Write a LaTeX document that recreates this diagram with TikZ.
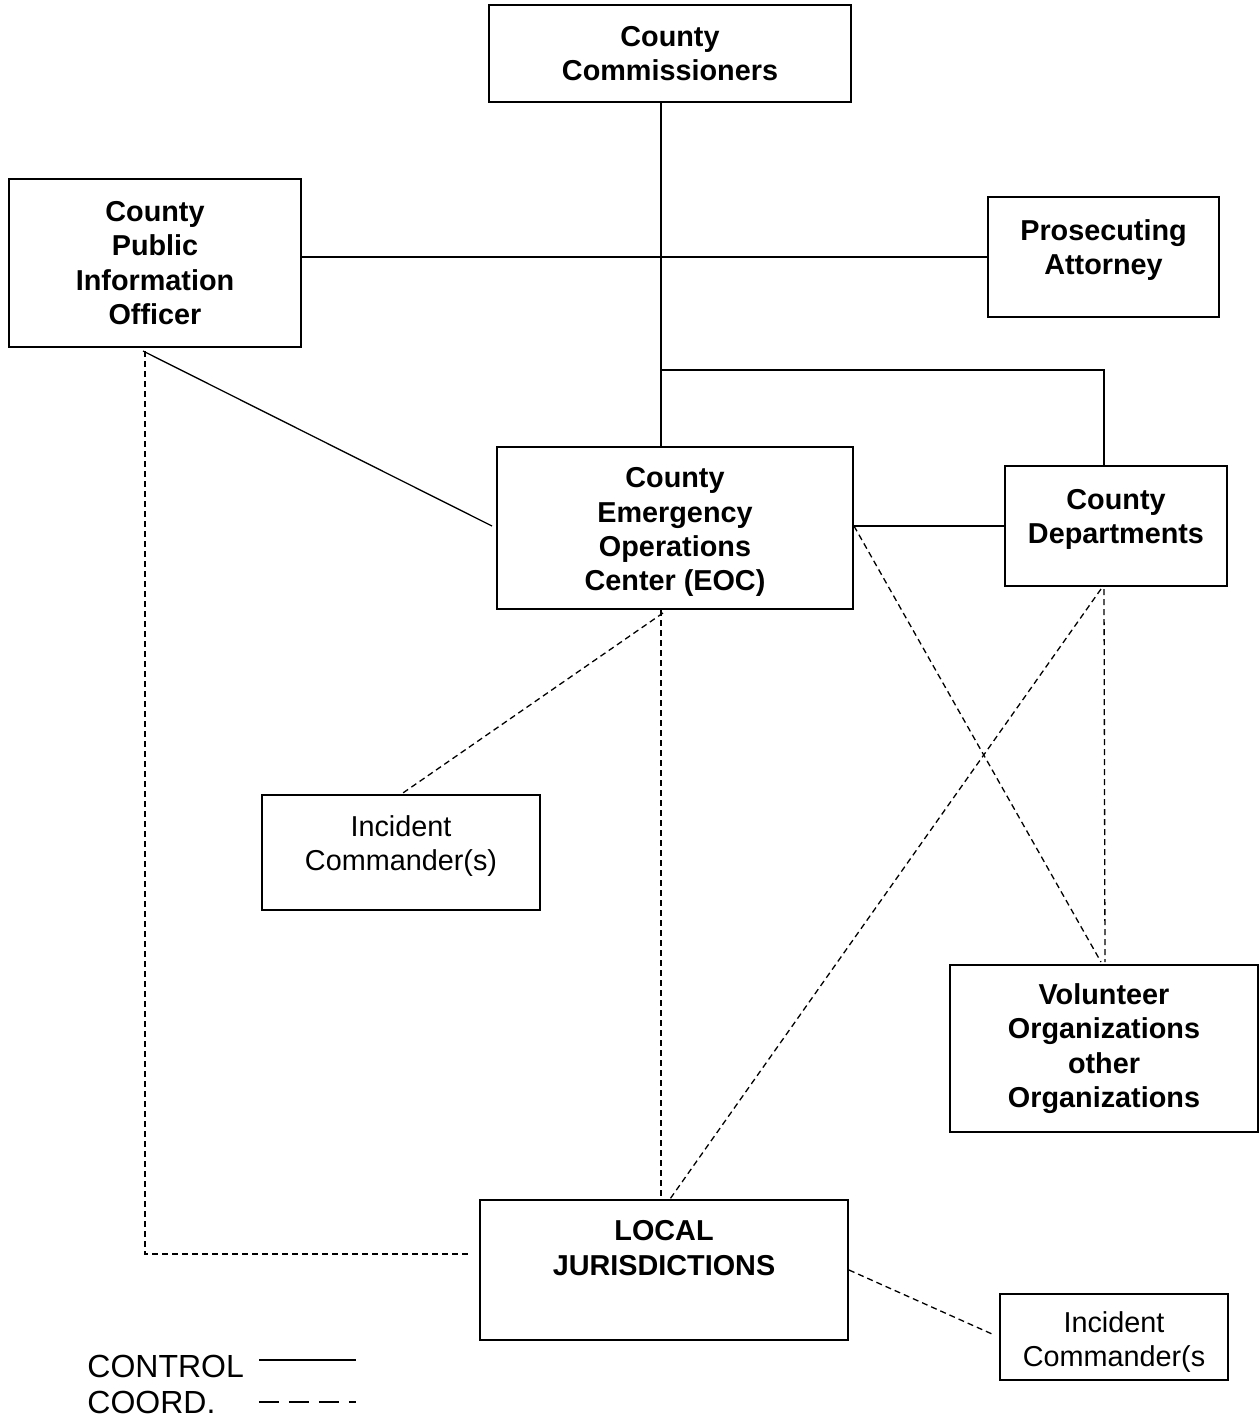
\documentclass[tikz,border=0pt]{standalone}
\usepackage{fontspec}
\setmainfont{Liberation Sans}
\usetikzlibrary{calc}

\tikzset{
	box/.style={draw, line width=1pt, align=center, inner sep=0pt,
		font=\fontsize{14.4}{17.2}\selectfont\bfseries},
	icbox/.style={draw, line width=0.7pt, align=center, inner sep=0pt,
		font=\fontsize{14.4}{17.2}\selectfont},
	ctrl/.style={line width=0.65pt},
	coord/.style={line width=0.65pt, dash pattern=on 3pt off 2pt},
	legend/.style={anchor=west, inner sep=0pt, font=\fontsize{16}{19}\selectfont}
}

\begin{document}
\begin{tikzpicture}[x=0.5pt,y=-0.5pt]
	\useasboundingbox (0,0) rectangle (1259,1420);
	% boxes
	\node[box, minimum width=181pt, minimum height=48.5pt](comm) at (670,53.5){County\\Commissioners};
	\node[box, minimum width=146pt, minimum height=84pt](pio) at (155,263){County\\Public\\Information\\Officer};
	\node[box, minimum width=115.5pt, minimum height=60pt](pa) at (1103.5,257){Prosecuting\\Attorney\\[-7.5pt]\mbox{}};
	\node[box, minimum width=178pt, minimum height=81pt](eoc) at (675,528){\mbox{}\\[-2.9pt]County\\Emergency\\Operations\\Center (EOC)};
	\node[box, minimum width=111pt, minimum height=60pt](dep) at (1116,526){County\\Departments\\[-7.5pt]\mbox{}};
	\node[icbox, minimum width=139pt, minimum height=57.5pt](ic1) at (401,852.5){Incident\\Commander(s)\\[-7.5pt]\mbox{}};
	\node[box, minimum width=154pt, minimum height=83.5pt](vol) at (1104,1048.5){Volunteer\\Organizations\\other\\Organizations};
	\node[box, minimum width=184pt, minimum height=70pt](loc) at (664,1270){LOCAL\\JURISDICTIONS\\[5pt]\mbox{}};
	\node[icbox, minimum width=114pt, minimum height=43pt](ic2) at (1114,1337){\mbox{}\\[-1.9pt]Incident\\Commander(s};
	\coordinate (trunk) at (661,370);

	% control lines
	\draw[ctrl] (comm.south -| trunk) -- (eoc.north -| trunk);
	\draw[ctrl] (pio.east |- pa.west) -- (pa.west);
	\draw[ctrl] (trunk) -| ($(dep.north)+(-12,0)$);
	\draw[ctrl] ($(pio.south)+(-12,3)$) -- ($(eoc.west)+(-4,-2)$);
	\draw[ctrl] (eoc.east |- dep.west) -- (dep.west);

	% coordination lines
	\draw[coord] ($(pio.south)+(-10,3)$) |- ($(loc.west)+(-8,-16)$);
	\draw[coord] ($(eoc.south)+(-12,3)$) -- (ic1.north);
	\draw[coord] (eoc.south -| trunk) -- (loc.north -| trunk);
	\draw[coord] (eoc.east |- dep.west) -- ($(vol.north)+(-3,-2)$);
	\draw[coord] ($(dep.south)+(-15,2)$) -- ($(loc.north)+(6,0)$);
	\draw[coord] ($(dep.south)+(-12,2)$) -- ($(vol.north)+(1,-2)$);
	\draw[coord] (loc.east) -- ($(ic2.west)+(-5,-2)$);

	% legend
	\node[legend](ctl) at (87,1366){CONTROL};
	\node[legend](crd) at (87,1402){COORD.};
	\draw[ctrl] (ctl.east) ++(15,-6) -- ++(97,0);
	\draw[line width=0.65pt, dash pattern=on 10pt off 5pt] (crd.east) ++(43,0) -- ++(97,0);
\end{tikzpicture}
\end{document}
